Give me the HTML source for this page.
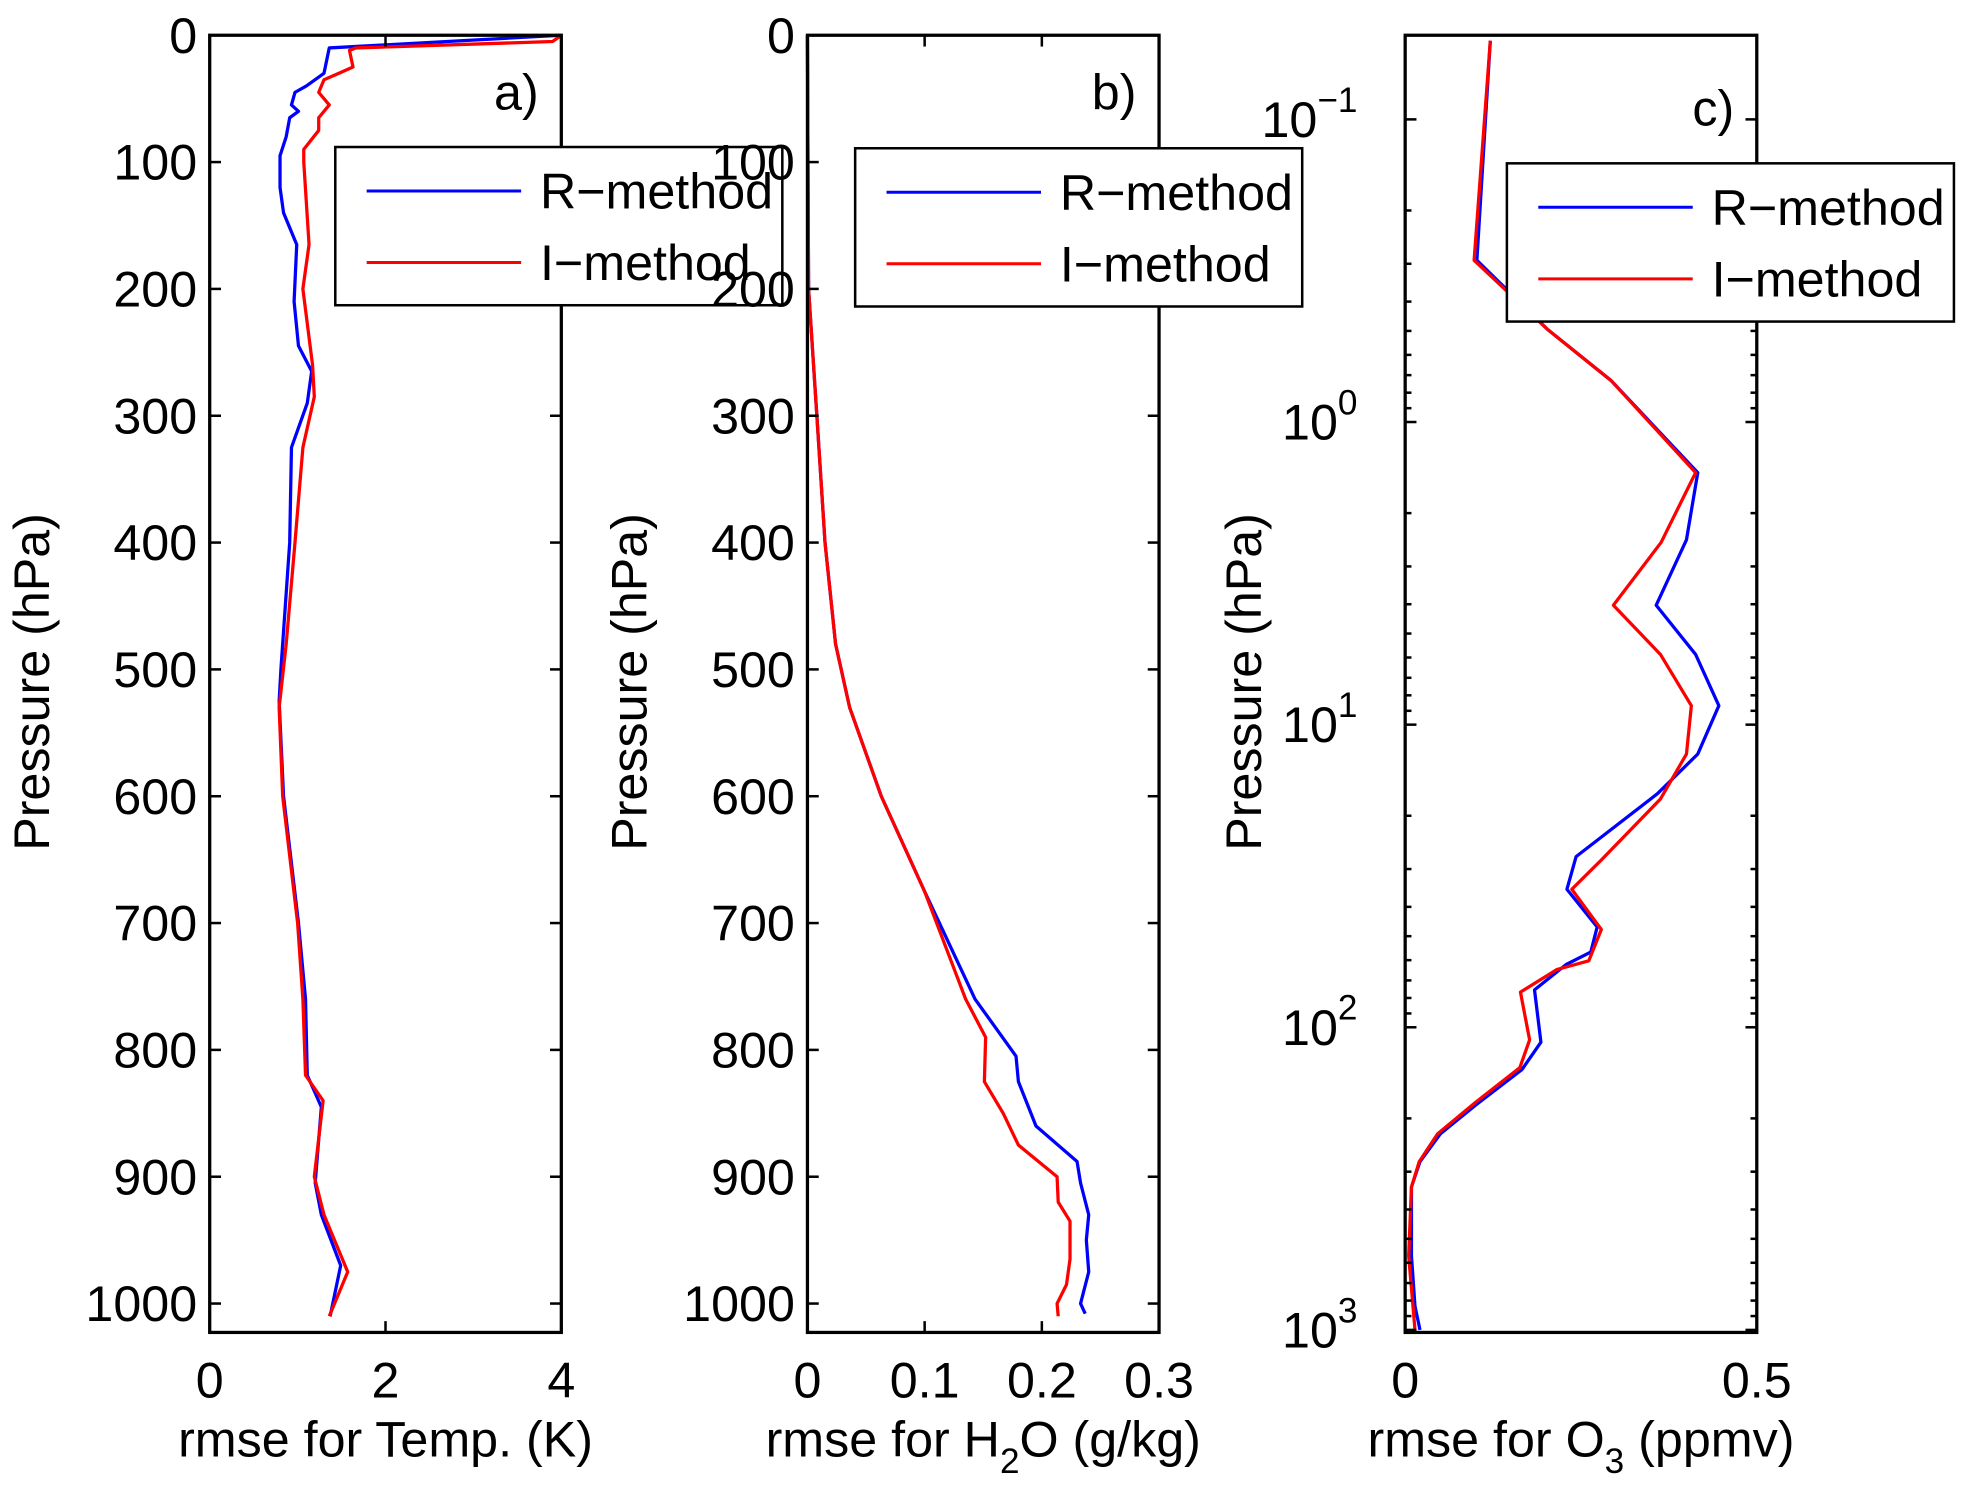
<!DOCTYPE html>
<html><head><meta charset="utf-8"><style>
html,body{margin:0;padding:0;background:#fff}
svg{display:block}
text{font-family:"Liberation Sans",Arial,sans-serif;fill:#000}
</style></head><body>
<svg id="fig" width="1969" height="1492" viewBox="0 0 1568 1188" xmlns="http://www.w3.org/2000/svg"></svg>
<script>
// ---- Panel a: temperature ----
const tempPresR=[0,10,30,40,45,55,60,65,80,95,120,140,165,210,245,265,290,325,400,500,525,600,700,760,820,845,905,930,970,1010];
const tempValR=[4.0,1.36,1.3,1.1,0.97,0.93,1.01,0.91,0.87,0.8,0.8,0.84,0.99,0.96,1.01,1.16,1.11,0.93,0.91,0.81,0.79,0.84,1.01,1.09,1.11,1.27,1.2,1.27,1.49,1.37];
const tempPresI=[0,5,10,12,25,30,35,45,55,65,75,90,100,165,200,260,285,325,400,480,530,600,700,760,820,840,900,930,975,1010];
const tempValI=[4.0,3.9,1.66,1.59,1.63,1.47,1.3,1.24,1.36,1.24,1.24,1.07,1.07,1.13,1.06,1.17,1.19,1.06,0.97,0.87,0.79,0.83,1.0,1.06,1.09,1.29,1.19,1.3,1.57,1.36];
const tempTicksX=[0,2,4];
// ---- Panel b: water vapour ----
const h2oPresR=[0,200,300,400,480,530,600,675,760,805,825,860,888,905,930,950,975,1000,1008];
const h2oValR=[0,0.001,0.008,0.015,0.024,0.036,0.063,0.1,0.143,0.178,0.18,0.195,0.23,0.233,0.24,0.238,0.24,0.233,0.237];
const h2oPresI=[0,200,300,400,480,530,600,675,760,790,825,850,875,900,920,935,965,985,1000,1010];
const h2oValI=[0,0.001,0.008,0.015,0.024,0.036,0.063,0.1,0.135,0.152,0.151,0.167,0.18,0.213,0.214,0.224,0.224,0.221,0.213,0.214];
const h2oTicksX=[0,0.1,0.2,0.3];
// ---- Panel c: ozone (log pressure) ----
const o3PresR=[0.055,0.292,0.493,0.73,1.47,2.45,4.03,5.86,8.66,12.5,16.9,27.3,35,46.6,56.4,62,75.2,112,138,181,225,278,337,569,834,1000];
const o3ValR=[0.121,0.102,0.202,0.293,0.416,0.4,0.357,0.413,0.446,0.416,0.359,0.243,0.23,0.273,0.264,0.229,0.184,0.193,0.166,0.1,0.05,0.021,0.009,0.009,0.014,0.021];
const o3PresI=[0.055,0.292,0.493,0.73,1.47,2.5,4.03,5.86,8.66,12.5,17.6,28,35,47.5,60.3,64.4,76.5,110,136,177,225,278,337,569,834,1000];
const o3ValI=[0.121,0.098,0.202,0.293,0.413,0.364,0.296,0.363,0.407,0.4,0.363,0.279,0.237,0.279,0.261,0.216,0.164,0.177,0.163,0.1,0.046,0.02,0.009,0.005,0.011,0.014];
const o3TicksX=[0,0.5];
const yTicksLin=[0,100,200,300,400,500,600,700,800,900,1000];
const logDecades=[-1,0,1,2,3];

const NS="http://www.w3.org/2000/svg";
const svg=document.getElementById('fig');
const TOP=28,BOT=1061,FS=40;
function mk(tag,attrs,parent){const e=document.createElementNS(NS,tag);for(const k in attrs)e.setAttribute(k,attrs[k]);(parent||svg).appendChild(e);return e;}

function panel(cfg){
  const g=mk('g',{});
  
  
  const L=cfg.left,R=cfg.left+280;
  const xs=v=>L+(v-cfg.xmin)/(cfg.xmax-cfg.xmin)*(R-L);
  const ys=cfg.ys;
  [[cfg.pR,cfg.vR,'#0000ff','r-method-line'],[cfg.pI,cfg.vI,'#ff0000','i-method-line']].forEach(s=>{
    const pts=s[0].map((p,i)=>xs(s[1][i]).toFixed(1)+','+ys(p).toFixed(1)).join(' ');
    const pl=mk('polyline',{points:pts,fill:'none',stroke:s[2],'stroke-width':2.6,'stroke-linejoin':'round'},g);
    
    
  });
  const box=mk('rect',{x:L,y:TOP,width:R-L,height:BOT-TOP,fill:'none',stroke:'#000','stroke-width':2.6},g);
  
  
  cfg.xt.forEach(v=>{
    const x=xs(v);
    mk('line',{x1:x,y1:BOT,x2:x,y2:BOT-9,stroke:'#000','stroke-width':2},g);
    mk('line',{x1:x,y1:TOP,x2:x,y2:TOP+9,stroke:'#000','stroke-width':2},g);
    const t=mk('text',{x:x,y:1113,'font-size':FS,'text-anchor':'middle'},g);
    t.textContent=String(v);
    
    
  });
  cfg.yticks(g,L,R,ys);
  const xl=mk('text',{x:(L+R)/2,y:1160,'font-size':FS,'text-anchor':'middle'},g);
  xl.innerHTML=cfg.xlabel;
  
  
  const yl=mk('text',{x:0,y:0,'font-size':FS,'text-anchor':'middle',transform:`translate(${cfg.ylx},543) rotate(-90)`},g);
  yl.textContent='Pressure (hPa)';
  
  
  const pl=mk('text',{x:R-18,y:cfg.panelY,'font-size':FS,'text-anchor':'end'},g);
  pl.textContent=cfg.tag;
  
  
  const lg=mk('g',{},g);
  
  
  const lx=cfg.lx,ly=cfg.ly;
  mk('rect',{x:lx,y:ly,width:356,height:126,fill:'#fff',stroke:'#000','stroke-width':2},lg);
  [['R\u2212method','#0000ff',35],['I\u2212method','#ff0000',92]].forEach(e=>{
    const en=mk('g',{},lg);
    
    
    mk('line',{x1:lx+25,y1:ly+e[2],x2:lx+148,y2:ly+e[2],stroke:e[1],'stroke-width':2.4},en);
    const t=mk('text',{x:lx+163,y:ly+e[2]+14,'font-size':FS},en);
    t.textContent=e[0];
  });
}
function linTicks(g,L,R,ys){
  yTicksLin.forEach(p=>{
    const y=ys(p);
    mk('line',{x1:L,y1:y,x2:L+9,y2:y,stroke:'#000','stroke-width':2},g);
    mk('line',{x1:R,y1:y,x2:R-9,y2:y,stroke:'#000','stroke-width':2},g);
    const t=mk('text',{x:L-10,y:y+14,'font-size':FS,'text-anchor':'end'},g);
    t.textContent=String(p);
    
    
  });
}
const linY=p=>TOP+p*(1038-TOP)/1000;
const logY=p=>95+(Math.log10(p)+1)*241;

panel({name:'panel-a-temperature',left:167,xmin:0,xmax:4,pR:tempPresR,vR:tempValR,pI:tempPresI,vI:tempValI,xt:tempTicksX,ys:linY,yticks:linTicks,
  xlabel:'rmse for Temp. (K)',ylx:39,tag:'a)',panelY:87,lx:267,ly:117});
panel({name:'panel-b-h2o',left:643,xmin:0,xmax:0.3,pR:h2oPresR,vR:h2oValR,pI:h2oPresI,vI:h2oValI,xt:h2oTicksX,ys:linY,yticks:linTicks,
  xlabel:'rmse for H<tspan dy="13" font-size="28">2</tspan><tspan dy="-13">O (g/kg)</tspan>',ylx:515,tag:'b)',panelY:87,lx:681,ly:118});
panel({name:'panel-c-o3',left:1119,xmin:0,xmax:0.5,pR:o3PresR,vR:o3ValR,pI:o3PresI,vI:o3ValI,xt:o3TicksX,ys:logY,
  yticks:function(g,L,R,ys){
    logDecades.forEach(d=>{
      for(let m=1;m<10;m++){
        const p=m*Math.pow(10,d);const y=ys(p);
        if(y<TOP-0.5||y>BOT+0.5)continue;
        const len=m===1?9:5;
        mk('line',{x1:L,y1:y,x2:L+len,y2:y,stroke:'#000','stroke-width':2},g);
        mk('line',{x1:R,y1:y,x2:R-len,y2:y,stroke:'#000','stroke-width':2},g);
      }
      const y=ys(Math.pow(10,d));
      const t=mk('text',{x:L-38,y:y+14,'font-size':FS,'text-anchor':'end'},g);
      t.innerHTML='10<tspan dy="-20" font-size="28">'+(d<0?'\u2212':'')+Math.abs(d)+'</tspan>';
      
      
    });
  },
  xlabel:'rmse for O<tspan dy="13" font-size="28">3</tspan><tspan dy="-13"> (ppmv)</tspan>',ylx:1004,tag:'c)',panelY:100,lx:1200,ly:130});
</script>
</body></html>
